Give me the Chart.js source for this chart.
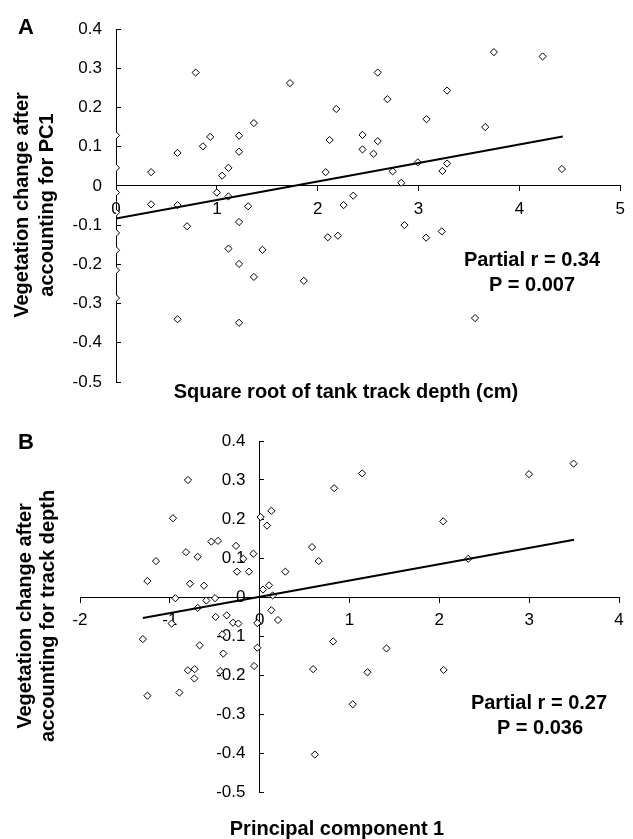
<!DOCTYPE html>
<html>
<head>
<meta charset="utf-8">
<script src="https://cdn.jsdelivr.net/npm/chart.js@4.4.1/dist/chart.umd.min.js"></script>
<style>
  html, body { margin: 0; padding: 0; background: #fff; }
  #wrap { position: relative; width: 633px; height: 839px; }
  canvas { position: absolute; left: 0; }
  #cA { top: 0; }
  #cB { top: 420px; }
</style>
</head>
<body>
<div id="wrap">
  <canvas id="cA" width="633" height="420"></canvas>
  <canvas id="cB" width="633" height="419"></canvas>
</div>
<script>
// ---------- Panel A data ----------
const depthA = [0, 0, 0, 0, 0, 0, 0, 0, 0.348, 0.348, 0.61, 0.61, 0.61, 0.705, 0.79, 0.862, 0.934, 1.0, 1.052, 1.115, 1.115, 1.115, 1.22, 1.22, 1.22, 1.22, 1.22, 1.31, 1.367, 1.367, 1.452, 1.725, 1.862, 2.079, 2.10, 2.118, 2.184, 2.2, 2.257, 2.352, 2.444, 2.444, 2.553, 2.595, 2.595, 2.691, 2.743, 2.829, 2.86, 2.993, 3.075, 3.079, 3.23, 3.237, 3.283, 3.283, 3.56, 3.661, 3.747, 4.23, 4.421];
const vegA = [0.129, 0.046, -0.017, -0.068, -0.12, -0.164, -0.215, -0.286, 0.035, -0.047, 0.084, -0.049, -0.340, -0.103, 0.289, 0.101, 0.125, -0.017, 0.026, 0.046, -0.027, -0.160, 0.128, 0.087, -0.092, -0.199, -0.349, -0.052, 0.160, -0.232, -0.163, 0.262, -0.242, 0.035, -0.131, 0.117, 0.196, -0.127, -0.049, -0.025, 0.130, 0.093, 0.082, 0.289, 0.114, 0.221, 0.037, 0.008, -0.100, 0.060, -0.132, 0.170, -0.116, 0.038, 0.243, 0.057, -0.337, 0.150, 0.341, 0.330, 0.043];
const fitXA = [0, 4.43];
const fitYA = [-0.083, 0.126];
const xTicksA = [0, 1, 2, 3, 4, 5];
const yTicksA = [-0.5, -0.4, -0.3, -0.2, -0.1, 0, 0.1, 0.2, 0.3, 0.4];

// ---------- Panel B data ----------
const pcB = [-1.3, -1.25, -1.249, -1.154, -0.965, -0.939, -0.98, -0.894, -0.82, -0.798, -0.776, -0.8, -0.723, -0.727, -0.69, -0.69, -0.668, -0.62, -0.594, -0.538, -0.497, -0.49, -0.464, -0.44, -0.416, -0.405, -0.367, -0.297, -0.263, -0.252, -0.237, -0.182, -0.119, -0.07, -0.062, -0.026, -0.026, 0.011, 0.037, 0.082, 0.104, 0.13, 0.13, 0.145, 0.204, 0.286, 0.583, 0.595, 0.614, 0.657, 0.818, 0.829, 1.036, 1.141, 1.2, 1.412, 2.043, 2.048, 2.322, 2.998, 3.495];
const vegB = [-0.108, 0.041, -0.253, 0.092, 0.202, -0.003, -0.068, -0.245, 0.115, 0.300, 0.034, -0.188, -0.185, -0.209, 0.103, -0.028, -0.124, 0.029, -0.009, 0.142, -0.003, -0.051, 0.144, -0.19, -0.096, -0.145, -0.047, -0.066, 0.131, 0.065, -0.068, 0.098, 0.065, 0.111, -0.177, -0.067, -0.13, 0.205, 0.019, 0.183, 0.030, 0.221, -0.034, 0.004, -0.059, 0.065, 0.128, -0.185, -0.404, 0.092, -0.114, 0.279, -0.275, 0.317, -0.193, -0.132, 0.194, -0.187, 0.098, 0.315, 0.342];
const fitXB = [-1.3, 3.5];
const fitYB = [-0.054, 0.147];
const xTicksB = [-2, -1, 0, 1, 2, 3, 4];
const yTicksB = [-0.5, -0.4, -0.3, -0.2, -0.1, 0, 0.1, 0.2, 0.3, 0.4];

const FONT = "'Liberation Sans', Arial, Helvetica, sans-serif";

function fmtY(v) { return v === 0 ? '0' : v.toFixed(1); }

function textPlugin(items) {
  return {
    id: 'texts',
    afterDraw(chart) {
      const ctx = chart.ctx;
      ctx.save();
      ctx.fillStyle = '#000';
      ctx.textAlign = 'center';
      ctx.textBaseline = 'middle';
      items.forEach(t => {
        ctx.font = t.font;
        ctx.save();
        ctx.translate(t.x, t.y);
        if (t.rot) ctx.rotate(t.rot);
        ctx.fillText(t.text, 0, 0);
        ctx.restore();
      });
      ctx.restore();
    }
  };
}

function makeChart(id, xs, ys, fx, fy, xTicks, yTicks, xMin, xMax, pad, texts) {
  const pts = xs.map((x, i) => ({ x: x, y: ys[i] }));
  const fit = fx.map((x, i) => ({ x: x, y: fy[i] }));
  return new Chart(document.getElementById(id), {
    type: 'scatter',
    data: {
      datasets: [
        {
          data: pts,
          pointStyle: 'rectRot',
          pointRadius: 3.6,
          pointBorderWidth: 1,
          pointBorderColor: '#000',
          pointBackgroundColor: '#fff',
          order: 1
        },
        {
          type: 'line',
          data: fit,
          borderColor: '#000',
          borderWidth: 2,
          pointRadius: 0,
          fill: false,
          order: 0
        }
      ]
    },
    options: {
      responsive: false,
      animation: false,
      devicePixelRatio: 1,
      layout: { padding: pad },
      plugins: { legend: { display: false }, tooltip: { enabled: false } },
      scales: {
        x: {
          type: 'linear',
          min: xMin, max: xMax,
          position: { y: 0 },
          afterBuildTicks: s => { s.ticks = xTicks.map(v => ({ value: v })); },
          grid: { drawOnChartArea: false, drawTicks: true, tickLength: 5, color: '#000', lineWidth: 1 },
          border: { display: true, color: '#000', width: 1 },
          ticks: { color: '#000', font: { family: FONT, size: 17 }, padding: 8, maxRotation: 0, autoSkip: false,
                   callback: v => String(v) }
        },
        y: {
          type: 'linear',
          min: -0.5, max: 0.4,
          position: { x: 0 },
          afterBuildTicks: s => { s.ticks = yTicks.map(v => ({ value: v })); },
          grid: { drawOnChartArea: false, drawTicks: true, tickLength: -5, color: '#000', lineWidth: 1 },
          border: { display: true, color: '#000', width: 1 },
          ticks: { color: '#000', font: { family: FONT, size: 17 }, padding: 0, autoSkip: false,
                   callback: v => fmtY(v) + '   ' }
        }
      }
    },
    plugins: [textPlugin(texts)]
  });
}

const BOLD20 = "bold 20px " + FONT;

makeChart('cA', depthA, vegA, fitXA, fitYA, xTicksA, yTicksA, 0, 5,
  { left: 116, right: 11, top: 29, bottom: 38 },
  [
    { text: 'A', x: 26, y: 28, font: "bold 22px " + FONT },
    { text: 'Vegetation change after', x: 22, y: 205, rot: -Math.PI / 2, font: BOLD20 },
    { text: 'accounting for PC1', x: 47, y: 205, rot: -Math.PI / 2, font: BOLD20 },
    { text: 'Square root of tank track depth (cm)', x: 346, y: 392, font: BOLD20 },
    { text: 'Partial r = 0.34', x: 532, y: 260, font: BOLD20 },
    { text: 'P = 0.007', x: 532, y: 285, font: BOLD20 }
  ]);

makeChart('cB', pcB, vegB, fitXB, fitYB, xTicksB, yTicksB, -2, 4,
  { left: 80, right: 14, top: 21, bottom: 47 },
  [
    { text: 'B', x: 26, y: 23, font: "bold 22px " + FONT },
    { text: 'Vegetation change after', x: 25, y: 196, rot: -Math.PI / 2, font: BOLD20 },
    { text: 'accounting for track depth', x: 48, y: 196, rot: -Math.PI / 2, font: BOLD20 },
    { text: 'Principal component 1', x: 337, y: 409, font: BOLD20 },
    { text: 'Partial r = 0.27', x: 539, y: 283, font: BOLD20 },
    { text: 'P = 0.036', x: 540, y: 308, font: BOLD20 }
  ]);
</script>
</body>
</html>
